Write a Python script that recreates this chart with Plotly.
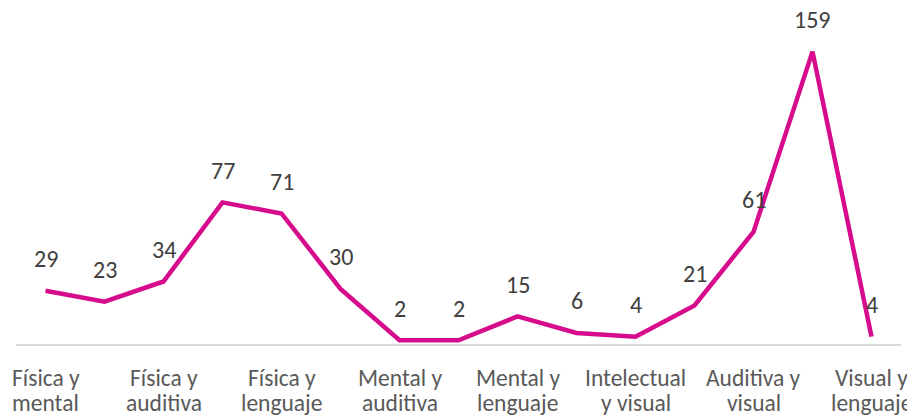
import plotly.graph_objects as go

# Combinaciones de discapacidad (15 pares); solo se rotula una de cada dos
categories = [
    "Física y mental", "Física e intelectual", "Física y auditiva",
    "Física y visual", "Física y lenguaje", "Mental e intelectual",
    "Mental y auditiva", "Mental y visual", "Mental y lenguaje",
    "Intelectual y auditiva", "Intelectual y visual", "Intelectual y lenguaje",
    "Auditiva y visual", "Auditiva y lenguaje", "Visual y lenguaje",
]
values = [29, 23, 34, 77, 71, 30, 2, 2, 15, 6, 4, 21, 61, 159, 4]

tick_categories = categories[::2]
tick_labels = [
    ("Física y", "mental"), ("Física y", "auditiva"), ("Física y", "lenguaje"),
    ("Mental y", "auditiva"), ("Mental y", "lenguaje"), ("Intelectual", "y visual"),
    ("Auditiva y", "visual"), ("Visual y", "lenguaje"),
]

LINE_COLOR = "#D60C8C"
FONT = "Carlito, Lato, sans-serif"

fig = go.Figure()
fig.add_trace(go.Scatter(
    x=categories,
    y=values,
    mode="lines",
    line=dict(color=LINE_COLOR, width=4.5),
    hoverinfo="x+y",
    cliponaxis=False,
))

# data labels above each point
for cat, val in zip(categories, values):
    fig.add_annotation(
        x=cat, y=val, text=str(val), showarrow=False,
        yanchor="middle", yshift=32,
        font=dict(family=FONT, size=24, color="#404040"),
    )

# category labels: two lines each, tighter line spacing than plotly's ticks
for cat, (line1, line2) in zip(tick_categories, tick_labels):
    for txt, shift in ((line1, -34), (line2, -59)):
        fig.add_annotation(
            x=cat, y=0, text=txt, showarrow=False,
            yanchor="middle", yshift=shift,
            font=dict(family=FONT, size=23.5, color="#595959"),
        )

# the page body adds an 8px margin, so the figure is 8px smaller than the window
fig.update_layout(
    width=907,
    height=408,
    margin=dict(l=8, r=14, t=5, b=72, autoexpand=False),
    paper_bgcolor="white",
    plot_bgcolor="white",
    showlegend=False,
    font=dict(family=FONT, color="#595959"),
)
fig.update_xaxes(
    type="category",
    range=[-0.5, 14.5],
    tickvals=tick_categories,
    showticklabels=False,
    showgrid=False,
    showline=True,
    linecolor="#D9D9D9",
    linewidth=1.5,
    ticks="",
    automargin=False,
)
fig.update_yaxes(
    range=[0, 180],
    visible=False,
    showgrid=False,
    zeroline=False,
    automargin=False,
)

fig.write_html("out.html")
